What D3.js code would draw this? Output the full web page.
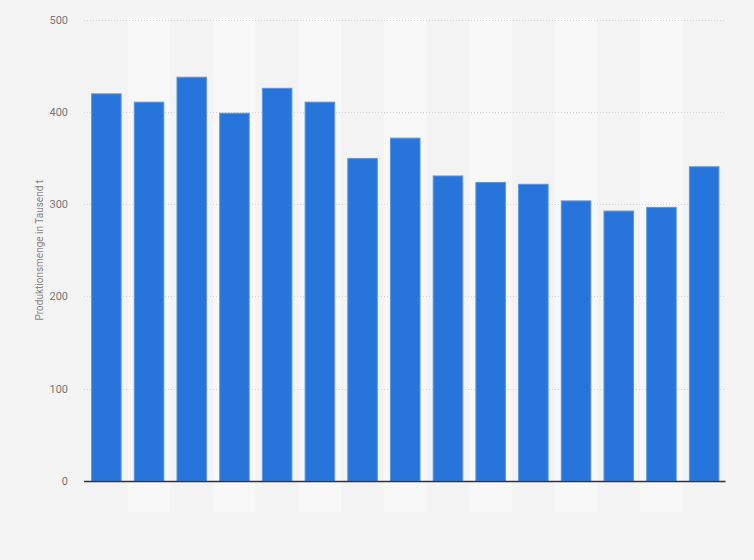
<!DOCTYPE html>
<html>
<head>
<meta charset="utf-8">
<script src="https://cdn.jsdelivr.net/npm/d3@7"></script>
<style>
  html, body { margin: 0; padding: 0; background: #f4f4f4; }
  svg { display: block; font-family: Roboto, "Open Sans", Arial, sans-serif; }
</style>
</head>
<body>
<svg id="chart" width="754" height="560"></svg>
<script>
// Daten (Produktionsmenge in Tausend t), 15 Jahre ohne Beschriftung
const categories = ["1", "2", "3", "4", "5", "6", "7", "8", "9", "10", "11", "12", "13", "14", "15"];
const values = [420, 411, 438, 399, 426, 411, 350, 372, 331, 324, 322, 304, 293, 297, 341];
const yTicks = [0, 100, 200, 300, 400, 500];
const yLabel = "Produktionsmenge in Tausend t";

const width = 754, height = 560;
const margin = {top: 19.5, right: 28.5, bottom: 79, left: 85};

const svg = d3.select("#chart");

// Hintergrund
svg.append("rect")
    .attr("width", width)
    .attr("height", height)
    .attr("fill", "#f4f4f4");

const x = d3.scaleBand()
    .domain(categories)
    .range([margin.left, width - margin.right])
    .paddingInner(0.285)
    .paddingOuter(0.1425);

const y = d3.scaleLinear()
    .domain([0, 500])
    .range([height - margin.bottom, margin.top]);

// abwechselnde Spalten
const colW = (width - margin.left - margin.right) / categories.length;
svg.append("g")
    .selectAll("rect")
    .data(categories)
    .join("rect")
    .attr("x", (d, i) => margin.left + i * colW)
    .attr("y", margin.top - 2)
    .attr("width", colW)
    .attr("height", height - margin.bottom - margin.top + 33)
    .attr("fill", (d, i) => i % 2 === 1 ? "#f8f8f8" : "#f3f3f3");

// Gitterlinien
svg.append("g")
    .selectAll("line")
    .data(yTicks.filter(t => t > 0))
    .join("line")
    .attr("x1", margin.left - 1)
    .attr("x2", width - margin.right - 1)
    .attr("y1", d => Math.round(y(d)) + 0.5)
    .attr("y2", d => Math.round(y(d)) + 0.5)
    .attr("stroke", "#d6d6d6")
    .attr("stroke-dasharray", "1,2");

// y-Achse (nur Beschriftungen)
const yAxis = svg.append("g")
    .attr("transform", `translate(${margin.left - 17},0)`)
    .call(d3.axisLeft(y).tickValues(yTicks).tickSize(0).tickPadding(0));
yAxis.select(".domain").remove();
yAxis.selectAll("text")
    .attr("fill", "#777")
    .attr("font-size", 11)
    .attr("font-family", "Roboto, Arial, sans-serif");

// Balken
svg.append("g")
    .selectAll("rect")
    .data(values)
    .join("rect")
    .attr("x", (d, i) => x(categories[i]) + 0.5)
    .attr("y", d => y(d) + 0.5)
    .attr("width", x.bandwidth() - 1)
    .attr("height", d => y(0) - y(d) - 0.5)
    .attr("fill", "#2775db")
    .attr("stroke", "#5b95e5")
    .attr("stroke-width", 1);

// x-Achsenlinie
svg.append("line")
    .attr("x1", margin.left - 1)
    .attr("x2", width - margin.right)
    .attr("y1", y(0) + 0.5)
    .attr("y2", y(0) + 0.5)
    .attr("stroke", "#333")
    .attr("stroke-width", 1.5);

// y-Achsentitel
svg.append("text")
    .attr("transform", "rotate(-90)")
    .attr("x", -(margin.top + (height - margin.bottom)) / 2)
    .attr("y", 43)
    .attr("text-anchor", "middle")
    .attr("font-size", 10)
    .attr("fill", "#888")
    .text(yLabel);
</script>
</body>
</html>
